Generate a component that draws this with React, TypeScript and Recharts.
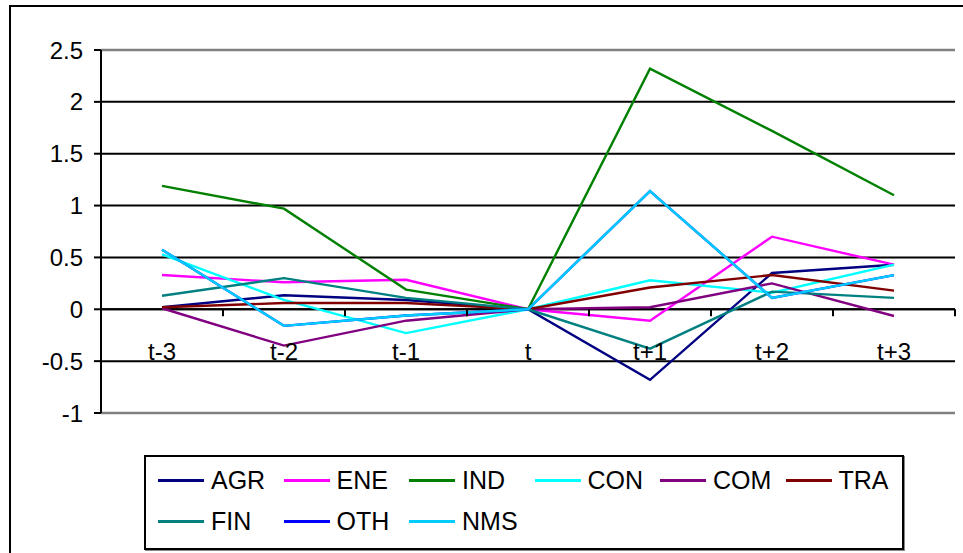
import React from 'react';
import { LineChart, Line, XAxis, YAxis, CartesianGrid, ReferenceLine, Legend } from 'recharts';

const categories = ['t-3', 't-2', 't-1', 't', 't+1', 't+2', 't+3'];
const agr = [0.02, 0.135, 0.09, 0, -0.68, 0.35, 0.43];
const ene = [0.33, 0.26, 0.285, 0, -0.11, 0.7, 0.43];
const ind = [1.19, 0.97, 0.19, 0, 2.32, 1.72, 1.1];
const con = [0.53, 0.09, -0.23, 0, 0.28, 0.16, 0.43];
const com = [0.01, -0.35, -0.11, 0, 0.02, 0.25, -0.065];
const tra = [0.02, 0.06, 0.06, 0, 0.21, 0.33, 0.18];
const fin = [0.13, 0.3, 0.11, 0, -0.38, 0.17, 0.11];
const oth = [0.575, -0.16, -0.06, 0, 1.14, 0.11, 0.33];
const nms = [0.575, -0.16, -0.06, 0, 1.14, 0.11, 0.33];
const yTicks = [-1, -0.5, 0, 0.5, 1, 1.5, 2, 2.5];

const series = [
  { key: 'AGR', values: agr, color: '#000080' },
  { key: 'ENE', values: ene, color: '#FF00FF' },
  { key: 'IND', values: ind, color: '#008000' },
  { key: 'CON', values: con, color: '#00FFFF' },
  { key: 'COM', values: com, color: '#800080' },
  { key: 'TRA', values: tra, color: '#800000' },
  { key: 'FIN', values: fin, color: '#008080' },
  { key: 'OTH', values: oth, color: '#0000FF' },
  { key: 'NMS', values: nms, color: '#00CCFF' },
];
const seriesOrder = series.map((s) => s.key);

const data = categories.map((c, i) => {
  const row: Record<string, any> = { cat: c };
  series.forEach((s) => (row[s.key] = s.values[i]));
  return row;
});

const W = 963;
const H = 553;
const MARGIN = { top: 50, right: 8, left: 0, bottom: 110 };
const YAXIS_W = 101;
const XAXIS_H = 30;
const PLOT_TOP = MARGIN.top;
const PLOT_H = H - MARGIN.top - MARGIN.bottom - XAXIS_H;
const PLOT_W = W - MARGIN.left - MARGIN.right - YAXIS_W;
const Y_MIN = -1;
const Y_MAX = 2.5;
const ZERO_Y = PLOT_TOP + (PLOT_H * (Y_MAX - 0)) / (Y_MAX - Y_MIN);
const FONT = '"Liberation Sans", Arial, sans-serif';

function XTick(props: any) {
  const { x, payload, index } = props;
  const band = PLOT_W / categories.length;
  const left = x - band / 2;
  const isLast = index === categories.length - 1;
  return (
    <g>
      <line x1={left} y1={ZERO_Y} x2={left} y2={ZERO_Y + 7} stroke="#000" strokeWidth={2} />
      {isLast && (
        <line x1={left + band} y1={ZERO_Y} x2={left + band} y2={ZERO_Y + 7} stroke="#000" strokeWidth={2} />
      )}
      <text x={x} y={ZERO_Y + 51} textAnchor="middle" fontSize={24} fontFamily={FONT} fill="#000">
        {payload.value}
      </text>
    </g>
  );
}

function LegendBox(props: any) {
  const items = [...(props.payload || [])].sort(
    (a: any, b: any) => seriesOrder.indexOf(a.value) - seriesOrder.indexOf(b.value)
  );
  return (
    <div
      style={{
        boxSizing: 'border-box',
        width: 760,
        height: 95,
        border: '2.5px solid #000',
        boxShadow: '1px 1px 0 #888',
        background: '#fff',
        paddingLeft: 12,
        paddingTop: 3,
        display: 'grid',
        gridTemplateColumns: 'repeat(6, 125.5px)',
        gridAutoRows: '41px',
        fontFamily: FONT,
        fontSize: 25,
        color: '#000',
      }}
    >
      {items.map((p: any) => (
        <div key={p.value} style={{ display: 'flex', alignItems: 'center', height: 41 }}>
          <span style={{ display: 'inline-block', width: 46, height: 3, background: p.color, marginRight: 7 }} />
          <span style={{ lineHeight: '41px' }}>{p.value}</span>
        </div>
      ))}
    </div>
  );
}

export default function App() {
  return (
    <div style={{ position: 'absolute', left: 0, top: 0, width: W, height: H, background: '#fff', overflow: 'hidden' }}>
      <div
        style={{
          position: 'absolute',
          left: 9,
          top: 5,
          width: 1000,
          height: 600,
          borderLeft: '2.5px solid #000',
          borderTop: '2.5px solid #000',
        }}
      />
      <div style={{ position: 'absolute', left: 0, top: 0 }}>
        <LineChart width={W} height={H} data={data} margin={MARGIN}>
          <CartesianGrid vertical={false} stroke="#000" strokeWidth={2} strokeOpacity={1} />
          <XAxis
            dataKey="cat"
            scale="band"
            height={XAXIS_H}
            axisLine={false}
            tickLine={false}
            tick={<XTick />}
            interval={0}
          />
          <YAxis
            width={YAXIS_W}
            domain={[Y_MIN, Y_MAX]}
            ticks={yTicks}
            interval={0}
            axisLine={{ stroke: '#000', strokeWidth: 2 }}
            tickLine={{ stroke: '#000', strokeWidth: 2 }}
            tickSize={7}
            tickMargin={11}
            tick={{ fontSize: 24, fontFamily: FONT, fill: '#000' }}
          />
          <YAxis
            yAxisId="r"
            orientation="right"
            width={0}
            domain={[Y_MIN, Y_MAX]}
            tick={false}
            tickLine={false}
            axisLine={{ stroke: '#808080', strokeWidth: 2.5 }}
          />
          <ReferenceLine y={Y_MAX} stroke="#808080" strokeWidth={2.5} />
          <ReferenceLine y={Y_MIN} stroke="#808080" strokeWidth={2.5} />
          <ReferenceLine y={0} stroke="#000" strokeWidth={2} />
          {series.map((s) => (
            <Line
              key={s.key}
              type="linear"
              dataKey={s.key}
              name={s.key}
              stroke={s.color}
              strokeWidth={2.4}
              dot={false}
              activeDot={false}
              isAnimationActive={false}
            />
          ))}
          <Legend
            layout="horizontal"
            verticalAlign="middle"
            align="center"
            content={<LegendBox />}
            wrapperStyle={{ left: 144, top: 455, width: 760, height: 95 }}
          />
        </LineChart>
      </div>
    </div>
  );
}
